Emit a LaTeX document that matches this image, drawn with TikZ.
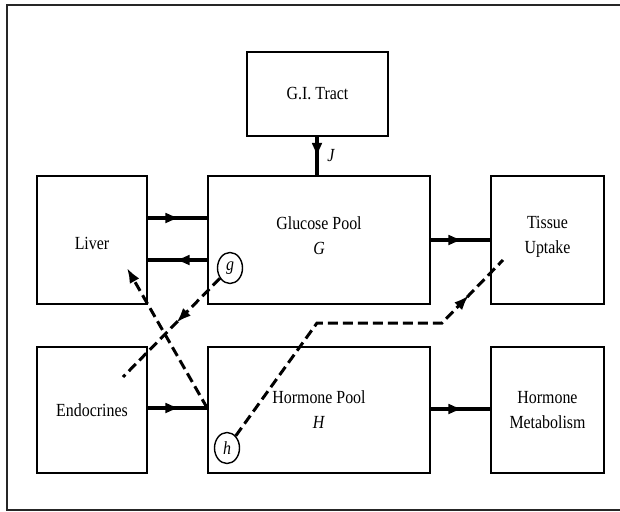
\documentclass[tikz,border=0pt]{standalone}
\usepackage{fontspec}
\setmainfont{Liberation Serif}[FakeStretch=0.86]
\usetikzlibrary{arrows.meta,decorations.markings,shapes.geometric}
\begin{document}
\begin{tikzpicture}[x=1pt,y=-1pt,
  box/.style={draw,line width=1.6pt,inner sep=0pt},
  txt/.style={align=center,inner sep=0pt,font=\fontsize{18.5}{25}\selectfont},
  pool/.style={draw,ellipse,line width=1.4pt,minimum width=25pt,minimum height=31pt,
    inner sep=0pt,font=\fontsize{18.5}{20}\selectfont\itshape},
  tipmid/.style={postaction={decorate},decoration={markings,
    mark=at position #1 with {\arrow{Latex[length=15pt,width=11pt]}}}},
  flow/.style={line width=3.4pt,tipmid=0.55},
  ctrl/.style={line width=3pt,dash pattern=on 10pt off 5pt},
  lbl/.style={font=\fontsize{18.5}{20}\selectfont\itshape,inner sep=0pt}]
\useasboundingbox (0,0) rectangle (620,511);
\draw[line width=1.4pt,black!85] (620,5) -- (7,5) -- (7,510) -- (620,510);
% boxes
\node[box,minimum width=141pt,minimum height=84pt] (gi) at (317.5,94) {};
\node[box,minimum width=110pt,minimum height=128pt] (liver) at (92,240) {};
\node[box,minimum width=222pt,minimum height=128pt] (glucose) at (319,240) {};
\node[box,minimum width=113pt,minimum height=128pt] (tissue) at (547.5,240) {};
\node[box,minimum width=110pt,minimum height=126pt] (endo) at (92,410) {};
\node[box,minimum width=222pt,minimum height=126pt] (hormone) at (319,410) {};
\node[box,minimum width=113pt,minimum height=126pt] (metab) at (547.5,410) {};
% texts
\node[txt] (gitxt) at (gi.center) {G.I. Tract};
\node[txt] (livertxt) at ([yshift=-3pt]liver.center) {Liver};
\node[txt] (glutxt) at ([yshift=4pt]glucose.center) {Glucose Pool\\\textit{G}};
\node[txt] (tistxt) at ([yshift=3.5pt]tissue.center) {Tissue\\Uptake};
\node[txt] (endotxt) at (endo.center) {Endocrines};
\node[txt] (hortxt) at (hormone.center) {Hormone Pool\\\textit{H}};
\node[txt] (mettxt) at (metab.center) {Hormone\\Metabolism};
% pools
\node[pool] (g) at (230,268) {g};
\node[pool] (h) at (227,448) {h};
% solid flows
\draw[flow] (gi.south -| 317,0) coordinate (j1) -- (j1 |- glucose.north);
\node[lbl] (J) at (331,156) {J};
\draw[flow] ([yshift=22pt]liver.east) coordinate (a1) -- (a1 -| glucose.west);
\draw[flow] ([yshift=-20pt]glucose.west) coordinate (a2) -- (a2 -| liver.east);
\draw[flow] (glucose.east) -- (tissue.west);
\draw[flow] ([yshift=2pt]endo.east) coordinate (a3) -- (a3 -| hormone.west);
\draw[flow] ([yshift=1pt]hormone.east) coordinate (a4) -- (a4 -| metab.west);
% control (dashed) lines
\coordinate (hl) at (a3 -| hormone.west);
\coordinate (lv) at (127,268);
\draw[ctrl,-{Latex[length=15pt,width=11pt]}] (hl) -- (lv);
\coordinate (ge) at (123,377);
\draw[ctrl,tipmid=0.45] (g) -- (ge);
\coordinate (hb1) at (317,323);
\coordinate (hb2) at (442,323);
\coordinate (te) at (503,260);
\draw[ctrl,tipmid=0.86] (h) -- (hb1) -- (hb2) -- (te);
\end{tikzpicture}
\end{document}
